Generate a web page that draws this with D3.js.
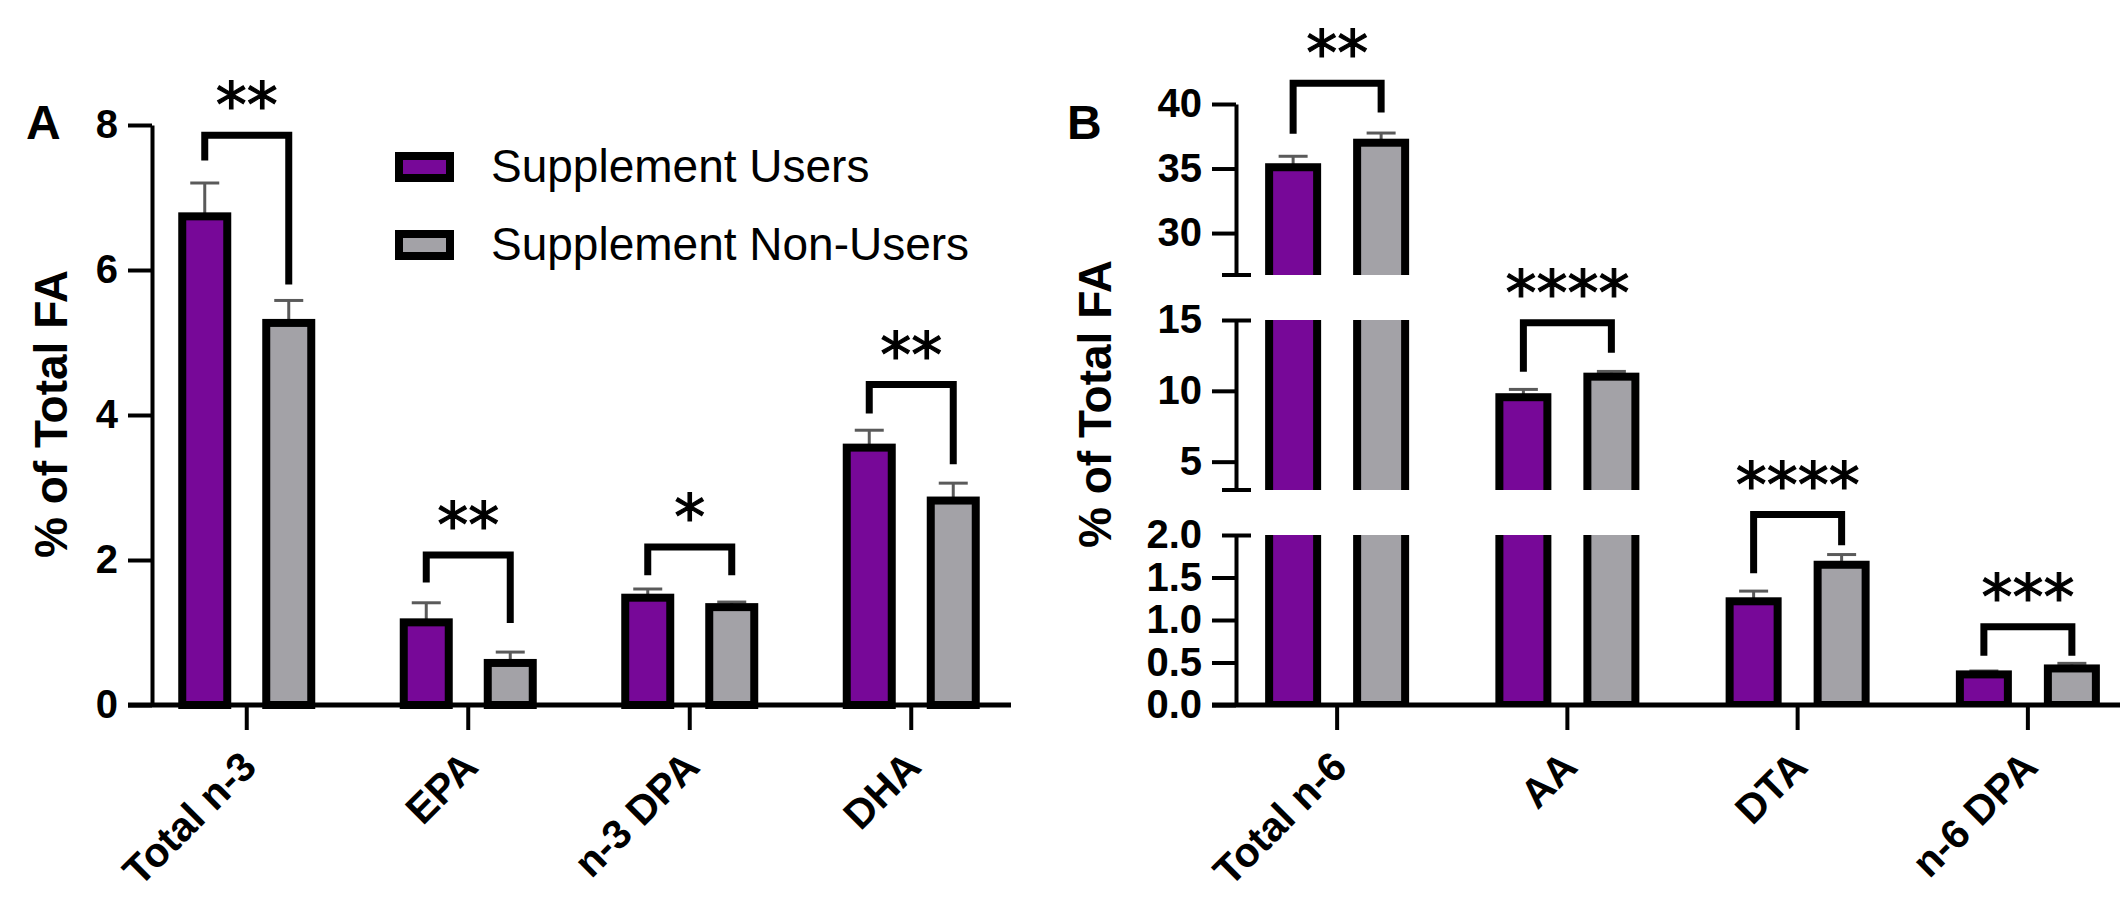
<!DOCTYPE html>
<html><head><meta charset="utf-8">
<script src="https://cdn.jsdelivr.net/npm/d3@7"></script>
<style>body{margin:0;background:#fff} svg{display:block}</style>
</head><body>
<svg id="chart" width="2120" height="900"></svg>
<script>
// ---------- data ----------
const seriesNames = ["Supplement Users", "Supplement Non-Users"];
const seriesColors = ["#770898", "#A3A2A7"];

const catsA = ["Total n-3", "EPA", "n-3 DPA", "DHA"];
const usersA = [6.74, 1.14, 1.48, 3.55];
const usersSeA = [0.46, 0.27, 0.12, 0.24];
const nonUsersA = [5.27, 0.58, 1.35, 2.82];
const nonUsersSeA = [0.31, 0.15, 0.07, 0.24];
const sigA = ["**", "**", "*", "**"];
// bracket: [left leg end, bar top, right leg end] in axis units
const bracketA = [[7.51, 7.86, 5.80], [1.69, 2.07, 1.13], [1.79, 2.18, 1.79], [4.02, 4.42, 3.32]];
const ticksA = [0, 2, 4, 6, 8];

const catsB = ["Total n-6", "AA", "DTA", "n-6 DPA"];
const usersB = [35.1, 9.55, 1.22, 0.36];
const usersSeB = [0.85, 0.55, 0.12, 0.04];
const nonUsersB = [37.0, 11.0, 1.65, 0.43];
const nonUsersSeB = [0.75, 0.37, 0.12, 0.06];
const sigB = ["**", "****", "****", "***"];
const bracketB = [[37.7, 41.6, 39.35], [11.34, 14.8, 12.68], [1.55, 2.24, 1.88], [0.58, 0.92, 0.58]];
const segDomainsB = [[26.75, 40], [3, 15], [0, 2]];
const segTicksB = [[30, 35, 40], [5, 10, 15], [0, 0.5, 1.0, 1.5, 2.0]];

// ---------- setup ----------
const svg = d3.select("#chart");
const FONT = "'Liberation Sans', Arial, sans-serif";
const STAR_FONT = "'DejaVu Sans', sans-serif";
const BAR_STROKE = 8, BRACKET_STROKE = 7;
const ERR_COLOR = "#5a5a5a";

function styleAxis(g) {
  g.selectAll("line").attr("stroke", "#000").attr("stroke-width", 4);
  g.selectAll("path.domain").attr("stroke", "#000").attr("stroke-width", 4);
  g.selectAll("text").attr("fill", "#000").style("font-family", FONT)
    .style("font-weight", "bold").style("font-size", "40px");
}

function starText(g, x, y, s) {
  g.append("text").attr("x", x).attr("y", y).attr("text-anchor", "middle")
    .style("font-family", STAR_FONT).style("font-weight", "normal").style("font-size", "62px")
    .attr("fill", "#000").attr("stroke", "#000").attr("stroke-width", 1.2).text(s);
}

// ---------- Panel A ----------
const yA = d3.scaleLinear().domain([0, 8]).range([705, 125]);
const xA = d3.scaleBand().domain(catsA).range([136, 1022]);
const offA = d3.scalePoint().domain(seriesNames).range([-42, 42]);
const barWA = 45;
const gA = svg.append("g");

const valsA = [usersA, nonUsersA], sesA = [usersSeA, nonUsersSeA];
catsA.forEach((c, i) => {
  const cx = xA(c) + xA.bandwidth() / 2;
  seriesNames.forEach((s, si) => {
    const v = valsA[si][i], se = sesA[si][i];
    const bx = cx + offA(s);
    gA.append("line").attr("x1", bx).attr("x2", bx).attr("y1", yA(v)).attr("y2", yA(v + se))
      .attr("stroke", ERR_COLOR).attr("stroke-width", 3);
    gA.append("line").attr("x1", bx - 14.5).attr("x2", bx + 14.5).attr("y1", yA(v + se)).attr("y2", yA(v + se))
      .attr("stroke", ERR_COLOR).attr("stroke-width", 3);
    gA.append("rect").attr("x", bx - barWA / 2).attr("y", yA(v)).attr("width", barWA)
      .attr("height", yA(0) - yA(v)).attr("fill", seriesColors[si])
      .attr("stroke", "#000").attr("stroke-width", BAR_STROKE);
  });
  const b = bracketA[i];
  const xl = cx + offA(seriesNames[0]), xr = cx + offA(seriesNames[1]);
  gA.append("path").attr("d", `M${xl},${yA(b[0])}V${yA(b[1])}H${xr}V${yA(b[2])}`)
    .attr("fill", "none").attr("stroke", "#000").attr("stroke-width", BRACKET_STROKE);
  starText(gA, (xl + xr) / 2, yA(b[1]) - 8, sigA[i]);
});

// axes A
const axA = gA.append("g").attr("transform", "translate(152,0)")
  .call(d3.axisLeft(yA).tickValues(ticksA).tickSize(24).tickSizeOuter(0).tickPadding(10).tickFormat(d3.format("d")));
styleAxis(axA);
gA.append("line").attr("x1", 128).attr("x2", 1011).attr("y1", 705).attr("y2", 705)
  .attr("stroke", "#000").attr("stroke-width", 5);
const axXA = gA.append("g").attr("transform", "translate(0,705)")
  .call(d3.axisBottom(xA).tickSize(25).tickSizeOuter(0));
axXA.select("path.domain").remove();
styleAxis(axXA);
axXA.selectAll(".tick text").style("font-size", "41px")
  .attr("x", 0).attr("y", 0).attr("dy", 0).attr("text-anchor", "end")
  .attr("transform", "translate(12,64) rotate(-45)");

gA.append("text").attr("transform", "translate(67,414) rotate(-90)").attr("text-anchor", "middle")
  .style("font-family", FONT).style("font-weight", "bold").style("font-size", "46px").text("% of Total FA");
gA.append("text").attr("x", 26).attr("y", 139)
  .style("font-family", FONT).style("font-weight", "bold").style("font-size", "48px").text("A");

// legend
const leg = gA.append("g");
seriesNames.forEach((s, si) => {
  const yy = 156 + si * 78;
  leg.append("rect").attr("x", 399).attr("y", yy).attr("width", 51).attr("height", 22)
    .attr("fill", seriesColors[si]).attr("stroke", "#000").attr("stroke-width", 8);
  leg.append("text").attr("x", 491).attr("y", yy + 26)
    .style("font-family", FONT).style("font-size", "46px").text(s);
});

// ---------- Panel B ----------
const segRangesB = [[275, 104], [490, 320], [705, 535]];
const segScales = segDomainsB.map((d, k) => d3.scaleLinear().domain(d).range(segRangesB[k]));
const xB = d3.scaleBand().domain(catsB).range([1222, 2143]);
const offB = d3.scalePoint().domain(seriesNames).range([-44, 44]);
const barWB = 48;
const gB = svg.append("g");
const defs = svg.append("defs");
segScales.forEach((sc, k) => {
  const r = sc.range();
  defs.append("clipPath").attr("id", "seg" + k).append("rect")
    .attr("x", 1240).attr("y", r[1]).attr("width", 900).attr("height", r[0] - r[1]);
});
function segOf(v) {
  for (let k = segDomainsB.length - 1; k >= 0; k--) if (v <= segDomainsB[k][1]) return k;
  return 0;
}

const valsB = [usersB, nonUsersB], sesB = [usersSeB, nonUsersSeB];
catsB.forEach((c, i) => {
  const cx = xB(c) + xB.bandwidth() / 2;
  seriesNames.forEach((s, si) => {
    const v = valsB[si][i], se = sesB[si][i];
    const bx = cx + offB(s);
    const ys = segScales[segOf(v)];
    gB.append("line").attr("x1", bx).attr("x2", bx).attr("y1", ys(v)).attr("y2", ys(v + se))
      .attr("stroke", ERR_COLOR).attr("stroke-width", 3);
    gB.append("line").attr("x1", bx - 14.5).attr("x2", bx + 14.5).attr("y1", ys(v + se)).attr("y2", ys(v + se))
      .attr("stroke", ERR_COLOR).attr("stroke-width", 3);
    segScales.forEach((sc, k) => {
      const dmin = segDomainsB[k][0];
      if (v <= dmin) return;
      const top = sc(v);
      const bottom = k === segScales.length - 1 ? sc(dmin) : sc(dmin) + 20;
      gB.append("rect").attr("clip-path", `url(#seg${k})`)
        .attr("x", bx - barWB / 2).attr("y", top).attr("width", barWB).attr("height", bottom - top)
        .attr("fill", seriesColors[si]).attr("stroke", "#000").attr("stroke-width", BAR_STROKE);
    });
  });
  const b = bracketB[i];
  const ys = segScales[segOf(Math.max(valsB[0][i], valsB[1][i]))];
  const xl = cx + offB(seriesNames[0]), xr = cx + offB(seriesNames[1]);
  gB.append("path").attr("d", `M${xl},${ys(b[0])}V${ys(b[1])}H${xr}V${ys(b[2])}`)
    .attr("fill", "none").attr("stroke", "#000").attr("stroke-width", BRACKET_STROKE);
  starText(gB, (xl + xr) / 2, ys(b[1]) - 8, sigB[i]);
});

// axes B
segScales.forEach((sc, k) => {
  const fmt = k === 2 ? d3.format(".1f") : d3.format("d");
  const ax = gB.append("g").attr("transform", "translate(1236,0)")
    .call(d3.axisLeft(sc).tickValues(segTicksB[k]).tickSize(24).tickSizeOuter(0).tickPadding(10).tickFormat(fmt));
  styleAxis(ax);
  const dmax = segDomainsB[k][1];
  if (k > 0) {
    ax.selectAll(".tick").filter(d => d === dmax).select("line").attr("x1", 15).attr("x2", -14);
  }
  if (k < segScales.length - 1) {
    const yb = sc(segDomainsB[k][0]);
    ax.append("line").attr("x1", -14).attr("x2", 15).attr("y1", yb).attr("y2", yb)
      .attr("stroke", "#000").attr("stroke-width", 4);
  }
});
gB.append("line").attr("x1", 1212).attr("x2", 2120).attr("y1", 705).attr("y2", 705)
  .attr("stroke", "#000").attr("stroke-width", 5);
const axXB = gB.append("g").attr("transform", "translate(0,705)")
  .call(d3.axisBottom(xB).tickSize(25).tickSizeOuter(0));
axXB.select("path.domain").remove();
styleAxis(axXB);
axXB.selectAll(".tick text").style("font-size", "41px")
  .attr("x", 0).attr("y", 0).attr("dy", 0).attr("text-anchor", "end")
  .attr("transform", "translate(12,64) rotate(-45)");

gB.append("text").attr("transform", "translate(1111,404) rotate(-90)").attr("text-anchor", "middle")
  .style("font-family", FONT).style("font-weight", "bold").style("font-size", "46px").text("% of Total FA");
gB.append("text").attr("x", 1067).attr("y", 139)
  .style("font-family", FONT).style("font-weight", "bold").style("font-size", "48px").text("B");
</script>
</body></html>
